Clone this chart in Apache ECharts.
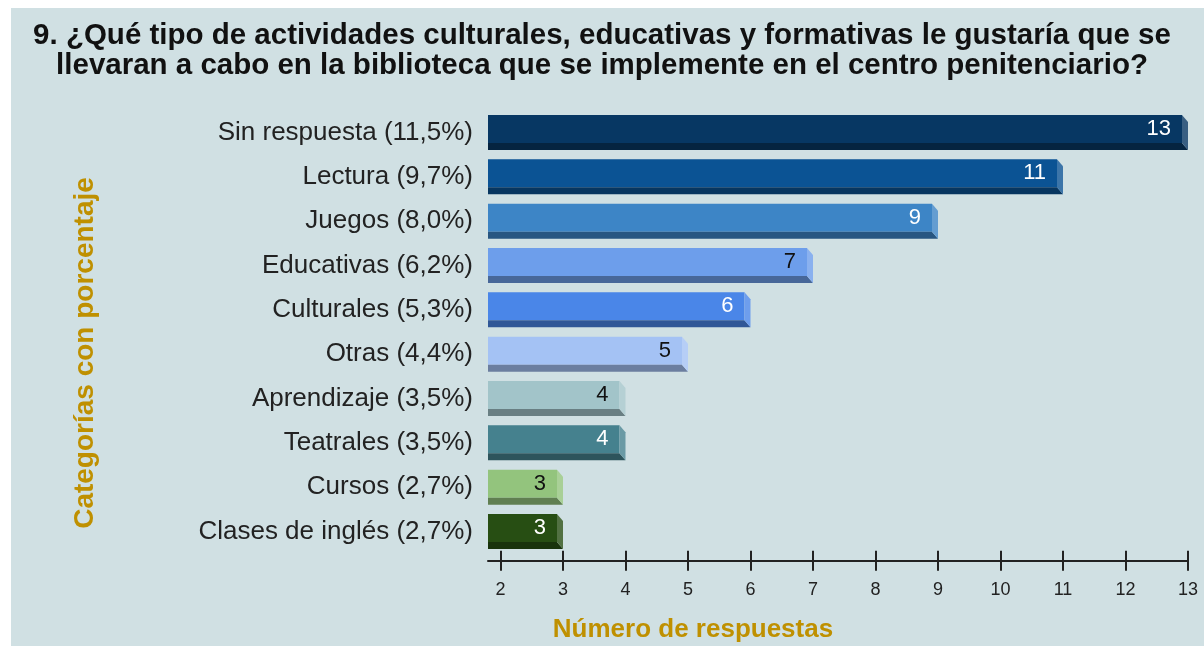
<!DOCTYPE html>
<html>
<head>
<meta charset="utf-8">
<script src="https://cdn.jsdelivr.net/npm/echarts@6/dist/echarts.min.js"></script>
<style>
  html, body { margin: 0; padding: 0; background: #fff; }
  #chart { width: 1204px; height: 646px; }
</style>
</head>
<body>
<div id="chart"></div>
<script>
// datos de la pregunta 9
const categories = ["Sin respuesta", "Lectura", "Juegos", "Educativas", "Culturales", "Otras", "Aprendizaje", "Teatrales", "Cursos", "Clases de inglés"]
const percentages = [11.5, 9.7, 8.0, 6.2, 5.3, 4.4, 3.5, 3.5, 2.7, 2.7]
const counts = [13, 11, 9, 7, 6, 5, 4, 4, 3, 3]
const xTicks = [2, 3, 4, 5, 6, 7, 8, 9, 10, 11, 12, 13]

const barColors = ["#073763", "#0b5394", "#3d85c6", "#6d9eeb", "#4a86e8", "#a4c2f4", "#a2c4c9", "#45818e", "#93c47d", "#274e13"]
const labelColors = ["#fff", "#fff", "#fff", "#111", "#fff", "#111", "#111", "#fff", "#111", "#fff"]

const X_MIN = 1.8
const X_MAX = 13
const DX = 6
const DY = 7
const BAR_RATIO = 0.79
const FONT = "'Liberation Sans', Arial, sans-serif"
const GOLD = "#bf9000"

function parseHex(hex) {
  return [1, 3, 5].map(i => parseInt(hex.slice(i, i + 2), 16))
}
function toHex(rgb) {
  return "#" + rgb.map(v => Math.round(Math.max(0, Math.min(255, v))).toString(16).padStart(2, "0")).join("")
}
function shade(hex, k) {
  return toHex(parseHex(hex).map(v => v * k))
}
function tint(hex, t) {
  return toHex(parseHex(hex).map(v => v + (255 - v) * t))
}

const catLabels = categories.map((c, i) => c + " (" + percentages[i].toFixed(1).replace(".", ",") + "%)")
const barData = counts.map((v, i) => [v, i])

function renderItem(params, api) {
  let i = api.value(1)
  let end = api.coord([api.value(0), i])
  let start = api.coord([X_MIN, i])
  let h = api.size([0, 1])[1] * BAR_RATIO
  let x0 = start[0]
  let x1 = end[0]
  let top = end[1] - h / 2
  let bot = end[1] + h / 2
  let fc = barColors[i]
  return {
    type: "group",
    children: [
      {
        type: "rect",
        shape: { x: x0, y: top, width: x1 - DX - x0, height: h - DY },
        style: { fill: fc },
      },
      {
        type: "polygon",
        shape: { points: [[x0, bot - DY], [x1 - DX, bot - DY], [x1, bot], [x0, bot]] },
        style: { fill: shade(fc, 0.65) },
      },
      {
        type: "polygon",
        shape: { points: [[x1 - DX, top], [x1, top + DY], [x1, bot], [x1 - DX, bot - DY]] },
        style: { fill: tint(fc, 0.2) },
      },
      {
        type: "text",
        x: x1 - DX - 11,
        y: top + (h - DY) / 2,
        style: {
          text: String(api.value(0)),
          align: "right",
          verticalAlign: "middle",
          fill: labelColors[i],
          fontSize: 22,
          fontFamily: FONT,
        },
      },
    ],
  }
}

let myChart = echarts.init(document.getElementById("chart"))
myChart.setOption({
  animation: false,
  backgroundColor: "#fff",
  title: {
    text: "9. ¿Qué tipo de actividades culturales, educativas y formativas le gustaría que se\nllevaran a cabo en la biblioteca que se implemente en el centro penitenciario?",
    left: "center",
    top: 21,
    padding: 0,
    textStyle: {
      fontFamily: FONT,
      fontSize: 29.5,
      fontWeight: "bold",
      lineHeight: 30,
      color: "#111",
    },
  },
  graphic: [
    {
      type: "rect",
      z: -10,
      silent: true,
      shape: { x: 11, y: 8, width: 1193, height: 638 },
      style: { fill: "#d0e0e3" },
    },
    {
      type: "text",
      x: 693,
      y: 630,
      style: {
        text: "Número de respuestas",
        align: "center",
        verticalAlign: "middle",
        fontFamily: FONT,
        fontSize: 26,
        fontWeight: "bold",
        fill: GOLD,
      },
    },
    {
      type: "text",
      x: 85,
      y: 353,
      rotation: Math.PI / 2,
      style: {
        text: "Categorías con porcentaje",
        align: "center",
        verticalAlign: "middle",
        fontFamily: FONT,
        fontSize: 28,
        fontWeight: "bold",
        fill: GOLD,
      },
    },
  ],
  grid: {
    left: 488,
    right: 16,
    top: 110.3,
    bottom: 92.3,
    containLabel: false,
    outerBoundsMode: "none",
  },
  xAxis: [
    {
      type: "value",
      min: X_MIN,
      max: X_MAX,
      position: "bottom",
      offset: 7,
      splitLine: { show: false },
      axisLine: { show: true, lineStyle: { color: "#222", width: 2 } },
      axisTick: {
        show: true,
        customValues: xTicks,
        length: 10,
        lineStyle: { color: "#222", width: 2 },
      },
      axisLabel: {
        customValues: xTicks,
        margin: 20,
        fontFamily: FONT,
        fontSize: 18,
        color: "#222",
      },
    },
    {
      type: "value",
      min: X_MIN,
      max: X_MAX,
      position: "bottom",
      offset: 7,
      splitLine: { show: false },
      axisLine: { show: false },
      axisTick: {
        show: true,
        inside: true,
        customValues: xTicks,
        length: 10,
        lineStyle: { color: "#222", width: 2 },
      },
      axisLabel: { show: false },
    },
  ],
  yAxis: {
    type: "category",
    inverse: true,
    data: catLabels,
    axisLine: { show: false },
    axisTick: { show: false },
    splitLine: { show: false },
    axisLabel: {
      margin: 15,
      fontFamily: FONT,
      fontSize: 26,
      color: "#222",
      padding: [0, 0, 9, 0],
    },
  },
  series: [
    {
      type: "custom",
      renderItem: renderItem,
      xAxisIndex: 0,
      encode: { x: 0, y: 1 },
      data: barData,
      clip: false,
    },
  ],
})
</script>
</body>
</html>
